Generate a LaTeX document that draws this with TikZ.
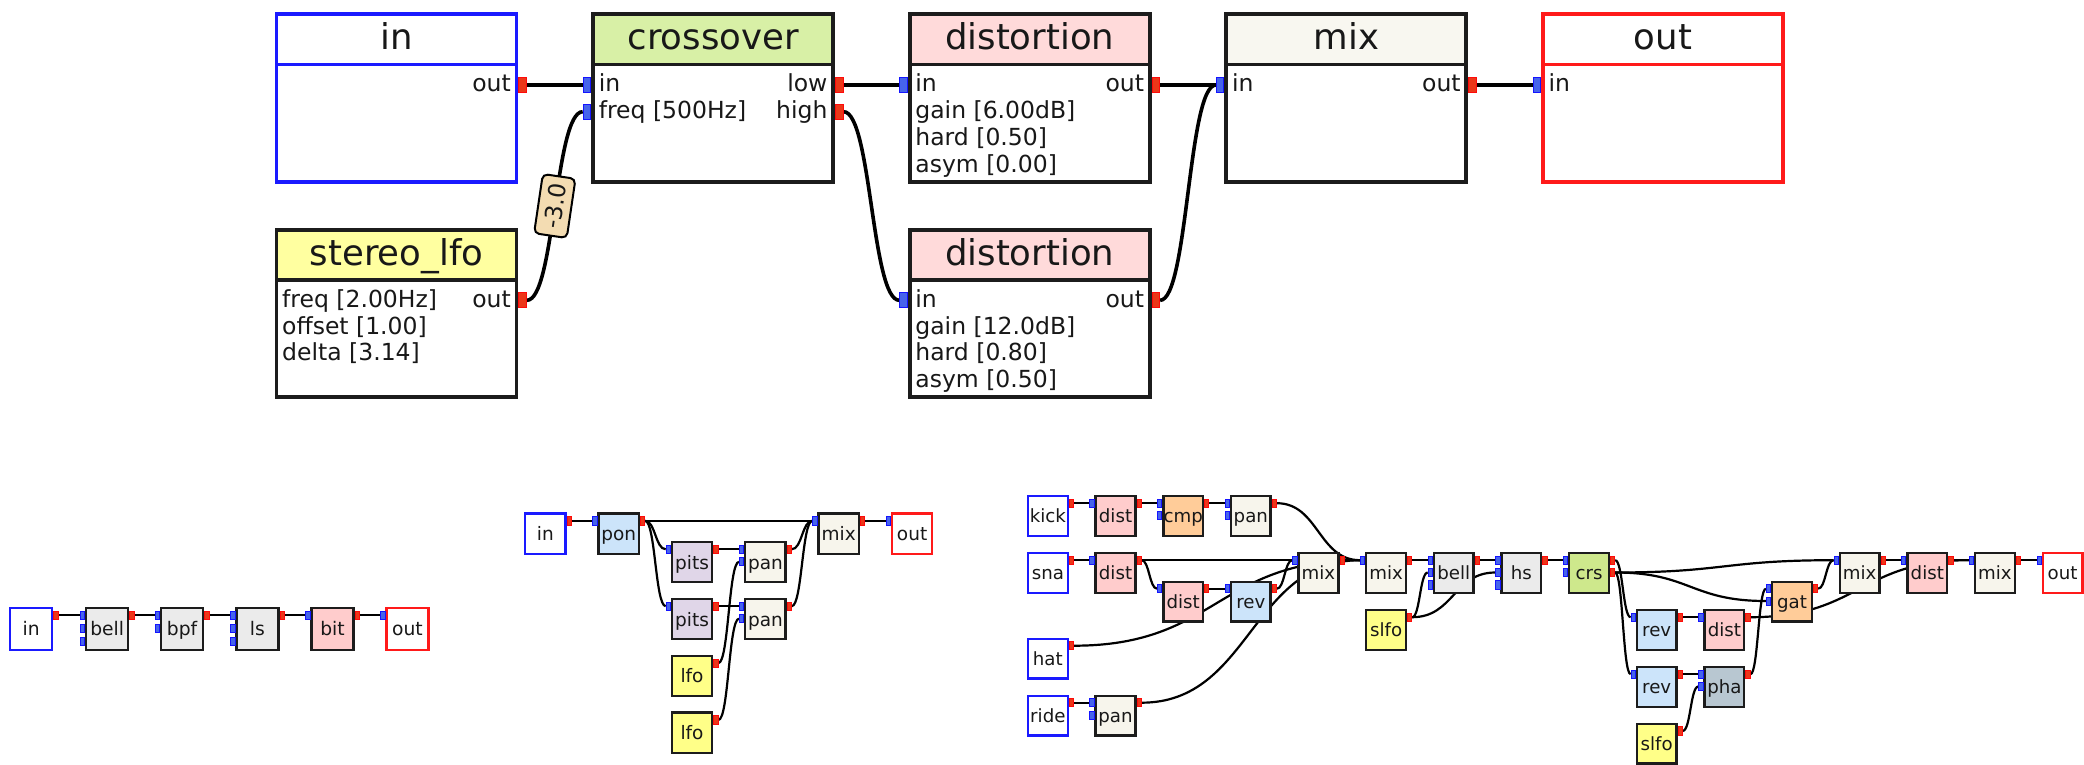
\documentclass[tikz,border=0pt]{standalone}
\usepackage{fontspec}
\setmainfont{DejaVu Sans}
\usetikzlibrary{calc}
\pgfdeclarelayer{bg}
\pgfsetlayers{bg,main}

\definecolor{inblue}{RGB}{26,26,255}
\definecolor{outred}{RGB}{255,26,26}
\definecolor{edge}{RGB}{28,28,28}
\definecolor{portin}{RGB}{70,100,235}
\definecolor{portinb}{RGB}{20,20,255}
\definecolor{portout}{RGB}{235,55,25}
\definecolor{portoutb}{RGB}{255,10,10}
\definecolor{hgreen}{RGB}{216,240,166}
\definecolor{hpink}{RGB}{255,218,218}
\definecolor{hcream}{RGB}{248,247,240}
\definecolor{hyellow}{RGB}{255,255,160}
\definecolor{tagfill}{RGB}{243,220,178}
\definecolor{fgray}{RGB}{235,235,235}
\definecolor{fpink}{RGB}{255,204,204}
\definecolor{fblue}{RGB}{204,228,250}
\definecolor{flav}{RGB}{224,214,232}
\definecolor{fcream}{RGB}{247,245,236}
\definecolor{fyellow}{RGB}{255,255,136}
\definecolor{fpeach}{RGB}{255,204,153}
\definecolor{fgreen}{RGB}{206,232,140}
\definecolor{fslate}{RGB}{184,199,209}
\definecolor{ink}{RGB}{24,24,24}

\tikzset{
  bigbody/.style={rectangle, draw, fill=white, line width=3.8pt,
    minimum width=240pt, minimum height=167.7pt, inner sep=0pt, outer sep=0pt},
  bighead/.style={rectangle, draw, line width=3.8pt,
    minimum width=240pt, minimum height=50.2pt, inner sep=0pt, outer sep=0pt},
  bigtitle/.style={inner sep=0pt, text=ink, font=\fontsize{35.5}{40}\selectfont},
  bodytext/.style={inner sep=0pt, text=ink, font=\fontsize{23.5}{26}\selectfont},
  bigport/.style={rectangle, line width=1pt, minimum width=7.5pt,
    minimum height=15pt, inner sep=0pt},
  bigwire/.style={draw=black, line width=3.6pt},
  tagbox/.style={draw=black, fill=tagfill, line width=2pt, rounded corners=5pt,
    inner xsep=7pt, inner ysep=0pt, minimum height=33pt, text=ink,
    font=\fontsize{23.5}{26}\selectfont},
  mod/.style={rectangle, draw, line width=2.4pt, inner sep=0pt, text=ink},
  smport/.style={rectangle, line width=0.8pt, minimum width=4.2pt,
    minimum height=8.2pt, inner sep=0pt},
  wire/.style={draw=black, line width=2.2pt},
}

% large module: name, left, top, border colour, header fill, title
\newcommand\bigbox[6]{%
  \node[bigbody, draw=#4, anchor=north west] (#1) at (#2,#3) {};
  \node[bighead, draw=#4, fill=#5, anchor=north west] (#1-h) at (#2,#3) {};
  \node[bigtitle, anchor=base] (#1-t) at ($(#1.north)+(0,35.5)$) {#6};}
\newcommand\ltext[3]{\node[bodytext, anchor=base west] (#1-l#2)
  at ($(#1.north west)+(5.5,{77.7+26.7*(#2-1)})$) {#3};}
\newcommand\rtext[3]{\node[bodytext, anchor=base east] (#1-r#2)
  at ($(#1.north east)+(-5.5,{77.7+26.7*(#2-1)})$) {#3};}
\newcommand\bigin[2]{\node[bigport, draw=portinb, fill=portin, anchor=east] (#1-i#2)
  at ($(#1.north west)+(-1.9,{70.7+26.7*(#2-1)})$) {};}
\newcommand\bigout[2]{\node[bigport, draw=portoutb, fill=portout, anchor=west] (#1-o#2)
  at ($(#1.north east)+(1.9,{70.7+26.7*(#2-1)})$) {};}

% small module: name, left, top, fill, border, label, inputs, outputs
\newcommand\modbox[8]{%
  \node[mod, fill=#4, draw=#5, minimum width=\msz, minimum height=\msz,
    text height=\mth, text depth=0pt, font=\fontsize{\mfs}{\mfs}\selectfont,
    anchor=north west] (#1) at (#2,#3) {#6};
  \ifnum#7>0 \foreach \k in {1,...,#7}{\node[smport, draw=portinb, fill=portin, anchor=east]
    (#1-i\k) at ($(#1.north west)+(0,{\pofs+\pstep*(\k-1)})$) {};}\fi
  \ifnum#8>0 \foreach \k in {1,...,#8}{\node[smport, draw=portoutb, fill=portout, anchor=west]
    (#1-o\k) at ($(#1.north east)+(0,{\pofs+\pstep*(\k-1)})$) {};}\fi}

% connector with horizontal tangents at both ends
\newcommand\wire[3][wire]{%
  \path ($(#2)!0.5!(#3)$) coordinate (wm);
  \draw[#1] (#2) .. controls (wm |- #2) and (wm |- #3) .. (#3);}

\begin{document}
\begin{tikzpicture}[x=1pt, y=-1pt]
\useasboundingbox (0,0) rectangle (2084,765);
\begin{pgfonlayer}{bg}
  \fill[white] (0,0) rectangle (2084,765);
\end{pgfonlayer}

% ---------------- large patch ----------------
\bigbox{bin}{276.5}{14.3}{inblue}{white}{in}
\bigbox{bcx}{593.1}{14.3}{edge}{hgreen}{crossover}
\bigbox{bda}{909.7}{14.3}{edge}{hpink}{distortion}
\bigbox{bmx}{1226.3}{14.3}{edge}{hcream}{mix}
\bigbox{bout}{1542.9}{14.3}{outred}{white}{out}
\bigbox{blfo}{276.5}{229.6}{edge}{hyellow}{stereo\_lfo}
\bigbox{bdb}{909.7}{229.6}{edge}{hpink}{distortion}

\rtext{bin}{1}{out} \bigout{bin}{1}

\ltext{bcx}{1}{in} \ltext{bcx}{2}{freq [500Hz]}
\rtext{bcx}{1}{low} \rtext{bcx}{2}{high}
\bigin{bcx}{1} \bigin{bcx}{2} \bigout{bcx}{1} \bigout{bcx}{2}

\ltext{bda}{1}{in} \ltext{bda}{2}{gain [6.00dB]} \ltext{bda}{3}{hard [0.50]} \ltext{bda}{4}{asym [0.00]}
\rtext{bda}{1}{out} \bigin{bda}{1} \bigout{bda}{1}

\ltext{bdb}{1}{in} \ltext{bdb}{2}{gain [12.0dB]} \ltext{bdb}{3}{hard [0.80]} \ltext{bdb}{4}{asym [0.50]}
\rtext{bdb}{1}{out} \bigin{bdb}{1} \bigout{bdb}{1}

\ltext{bmx}{1}{in} \rtext{bmx}{1}{out} \bigin{bmx}{1} \bigout{bmx}{1}
\ltext{bout}{1}{in} \bigin{bout}{1}

\ltext{blfo}{1}{freq [2.00Hz]} \ltext{blfo}{2}{offset [1.00]} \ltext{blfo}{3}{delta [3.14]}
\rtext{blfo}{1}{out} \bigout{blfo}{1}

% ---------------- chain ----------------
\def\msz{41.9pt}\def\mth{14.2pt}\def\mfs{18.7}\def\pofs{8.6}\def\pstep{13.2}
\modbox{ain}{9}{606.7}{white}{inblue}{in}{0}{1}
\modbox{abell}{85}{606.7}{fgray}{edge}{bell}{3}{1}
\modbox{abpf}{160}{606.7}{fgray}{edge}{bpf}{2}{1}
\modbox{als}{235.3}{606.7}{fgray}{edge}{ls}{3}{1}
\modbox{abit}{310.3}{606.7}{fpink}{edge}{bit}{1}{1}
\modbox{aout}{385.3}{606.7}{white}{outred}{out}{1}{0}

% ---------------- pitch / pan patch ----------------
\def\msz{40.3pt}\def\mth{14pt}\def\mfs{18.5}\def\pofs{8.5}\def\pstep{12.5}
\modbox{bin2}{524}{512.3}{white}{inblue}{in}{0}{1}
\modbox{bpon}{597.35}{512.3}{fblue}{edge}{pon}{1}{1}
\modbox{bpa}{670.7}{540.75}{flav}{edge}{pits}{1}{1}
\modbox{bpb}{670.7}{597.65}{flav}{edge}{pits}{1}{1}
\modbox{bna}{744.05}{540.75}{fcream}{edge}{pan}{2}{1}
\modbox{bnb}{744.05}{597.65}{fcream}{edge}{pan}{2}{1}
\modbox{bla}{670.7}{654.55}{fyellow}{edge}{lfo}{0}{1}
\modbox{blb}{670.7}{711.45}{fyellow}{edge}{lfo}{0}{1}
\modbox{bmix}{817.4}{512.3}{fcream}{edge}{mix}{1}{1}
\modbox{bout2}{890.75}{512.3}{white}{outred}{out}{1}{0}

% ---------------- drum bus ----------------
\def\msz{39.7pt}\def\mth{13.8pt}\def\mfs{18.2}\def\pofs{8.2}\def\pstep{12.3}
\modbox{kick}{1026.8}{495}{white}{inblue}{kick}{0}{1}
\modbox{dk}{1094.45}{495}{fpink}{edge}{dist}{1}{1}
\modbox{cmp}{1162.1}{495}{fpeach}{edge}{cmp}{2}{1}
\modbox{pk}{1229.75}{495}{fcream}{edge}{pan}{2}{1}
\modbox{sna}{1026.8}{552}{white}{inblue}{sna}{0}{1}
\modbox{ds}{1094.45}{552}{fpink}{edge}{dist}{1}{1}
\modbox{dd}{1162.1}{580.5}{fpink}{edge}{dist}{1}{1}
\modbox{rv}{1229.75}{580.5}{fblue}{edge}{rev}{1}{1}
\modbox{mxa}{1297.4}{552}{fcream}{edge}{mix}{1}{1}
\modbox{mxb}{1365.05}{552}{fcream}{edge}{mix}{1}{1}
\modbox{bl}{1432.7}{552}{fgray}{edge}{bell}{3}{1}
\modbox{hs}{1500.35}{552}{fgray}{edge}{hs}{3}{1}
\modbox{crs}{1568}{552}{fgreen}{edge}{crs}{2}{2}
\modbox{sla}{1365.05}{609}{fyellow}{edge}{slfo}{0}{1}
\modbox{hat}{1026.8}{637.5}{white}{inblue}{hat}{0}{1}
\modbox{ride}{1026.8}{694.5}{white}{inblue}{ride}{0}{1}
\modbox{pr}{1094.45}{694.5}{fcream}{edge}{pan}{2}{1}
\modbox{rva}{1635.65}{609}{fblue}{edge}{rev}{1}{1}
\modbox{dsa}{1703.3}{609}{fpink}{edge}{dist}{1}{1}
\modbox{gat}{1770.95}{580.5}{fpeach}{edge}{gat}{2}{1}
\modbox{mxc}{1838.6}{552}{fcream}{edge}{mix}{1}{1}
\modbox{dsb}{1906.25}{552}{fpink}{edge}{dist}{1}{1}
\modbox{mxd}{1973.9}{552}{fcream}{edge}{mix}{1}{1}
\modbox{out3}{2041.55}{552}{white}{outred}{out}{1}{0}
\modbox{rvb}{1635.65}{666}{fblue}{edge}{rev}{1}{1}
\modbox{pha}{1703.3}{666}{fslate}{edge}{pha}{2}{1}
\modbox{slb}{1635.65}{722.7}{fyellow}{edge}{slfo}{0}{1}

% ---------------- connectors ----------------
\begin{pgfonlayer}{bg}
  \wire[bigwire]{bin-o1.east}{bcx-i1.west}
  \path ($(blfo-o1.east)!0.5!(bcx-i2.west)$) coordinate (wm);
  \draw[bigwire] (blfo-o1.east) .. controls (wm |- blfo-o1.east) and (wm |- bcx-i2.west)
    .. node[tagbox, sloped, pos=0.5] (amt) {-3.0} (bcx-i2.west);
  \wire[bigwire]{bcx-o1.east}{bda-i1.west}
  \wire[bigwire]{bcx-o2.east}{bdb-i1.west}
  \wire[bigwire]{bda-o1.east}{bmx-i1.west}
  \wire[bigwire]{bdb-o1.east}{bmx-i1.west}
  \wire[bigwire]{bmx-o1.east}{bout-i1.west}

  \wire{ain-o1.east}{abell-i1.west}
  \wire{abell-o1.east}{abpf-i1.west}
  \wire{abpf-o1.east}{als-i1.west}
  \wire{als-o1.east}{abit-i1.west}
  \wire{abit-o1.east}{aout-i1.west}

  \wire{bin2-o1.east}{bpon-i1.west}
  \wire{bpon-o1.east}{bmix-i1.west}
  \wire{bpon-o1.east}{bpa-i1.west}
  \wire{bpon-o1.east}{bpb-i1.west}
  \wire{bpa-o1.east}{bna-i1.west}
  \wire{bpb-o1.east}{bnb-i1.west}
  \wire{bla-o1.east}{bna-i2.west}
  \wire{blb-o1.east}{bnb-i2.west}
  \wire{bna-o1.east}{bmix-i1.west}
  \wire{bnb-o1.east}{bmix-i1.west}
  \wire{bmix-o1.east}{bout2-i1.west}

  \wire{kick-o1.east}{dk-i1.west}
  \wire{dk-o1.east}{cmp-i1.west}
  \wire{cmp-o1.east}{pk-i1.west}
  \wire{pk-o1.east}{mxb-i1.west}
  \wire{sna-o1.east}{ds-i1.west}
  \wire{ds-o1.east}{mxa-i1.west}
  \wire{ds-o1.east}{dd-i1.west}
  \wire{dd-o1.east}{rv-i1.west}
  \wire{rv-o1.east}{mxa-i1.west}
  \wire{hat-o1.east}{mxb-i1.west}
  \wire{ride-o1.east}{pr-i1.west}
  \wire{pr-o1.east}{mxb-i1.west}
  \wire{mxa-o1.east}{mxb-i1.west}
  \wire{mxb-o1.east}{bl-i1.west}
  \wire{sla-o1.east}{bl-i2.west}
  \wire{sla-o1.east}{hs-i2.west}
  \wire{bl-o1.east}{hs-i1.west}
  \wire{hs-o1.east}{crs-i1.west}
  \wire{crs-o1.east}{rva-i1.west}
  \wire{crs-o2.east}{rvb-i1.west}
  \wire{crs-o2.east}{mxc-i1.west}
  \wire{crs-o2.east}{gat-i2.west}
  \wire{rva-o1.east}{dsa-i1.west}
  \wire{dsa-o1.east}{mxd-i1.west}
  \wire{rvb-o1.east}{pha-i1.west}
  \wire{slb-o1.east}{pha-i2.west}
  \wire{pha-o1.east}{gat-i1.west}
  \wire{gat-o1.east}{mxc-i1.west}
  \wire{mxc-o1.east}{dsb-i1.west}
  \wire{dsb-o1.east}{mxd-i1.west}
  \wire{mxd-o1.east}{out3-i1.west}
\end{pgfonlayer}
\end{tikzpicture}
\end{document}
